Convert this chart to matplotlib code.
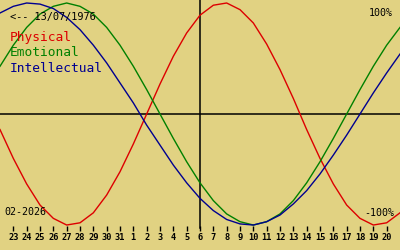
import matplotlib

matplotlib.use("Agg")

import matplotlib.pyplot as plt
import matplotlib.transforms as mtransforms

# day index 0 = 23 Jan 2026, index 14 = 6 Feb 2026 (today line)
day_idx = list(range(-1, 30))
day_labels = ["23", "24", "25", "26", "27", "28", "29", "30", "31",
              "1", "2", "3", "4", "5", "6", "7", "8", "9", "10",
              "11", "12", "13", "14", "15", "16", "17", "18", "19", "20"]
today_idx = 14

physical = [-0.14, -0.40, -0.63, -0.82, -0.94, -1.00, -0.98, -0.89, -0.73, -0.52,
            -0.27, 0.00, 0.27, 0.52, 0.73, 0.89, 0.98, 1.00, 0.94, 0.82,
            0.63, 0.40, 0.14, -0.14, -0.40, -0.63, -0.82, -0.94, -1.00, -0.98,
            -0.89]
emotional = [0.43, 0.62, 0.78, 0.90, 0.97, 1.00, 0.97, 0.90, 0.78, 0.62,
             0.43, 0.22, 0.00, -0.22, -0.43, -0.62, -0.78, -0.90, -0.97, -1.00,
             -0.97, -0.90, -0.78, -0.62, -0.43, -0.22, 0.00, 0.22, 0.43, 0.62,
             0.78]
intellectual = [0.91, 0.97, 1.00, 0.99, 0.95, 0.87, 0.76, 0.62, 0.46, 0.28,
                0.10, -0.10, -0.28, -0.46, -0.62, -0.76, -0.87, -0.95, -0.99, -1.00,
                -0.97, -0.91, -0.81, -0.69, -0.54, -0.37, -0.19, 0.00, 0.19, 0.37,
                0.54]

BG = "#e1d282"
RED = "#dd0000"
GREEN = "#008000"
BLUE = "#000090"
MONO = "DejaVu Sans Mono"

fig = plt.figure(figsize=(4, 2.5), dpi=100, facecolor=BG)
ax = fig.add_axes([0, 0, 1, 1], facecolor=BG)
ax.set_xlim(-1, 29)
ax.set_ylim(-1.225, 1.027)
ax.axis("off")

ax.axhline(0, color="black", lw=1.1)
ax.axvline(today_idx, ymin=0.088, ymax=1, color="black", lw=1.1)

ax.plot(day_idx, physical, color=RED, lw=1.0)
ax.plot(day_idx, emotional, color=GREEN, lw=1.0)
ax.plot(day_idx, intellectual, color=BLUE, lw=1.0)

# day ticks and labels along the bottom
trans = mtransforms.blended_transform_factory(ax.transData, ax.transAxes)
ticks = list(range(len(day_labels)))
ax.vlines(ticks, 0.076, 0.096, transform=trans, color="black", lw=1.0)
for i, lab in zip(ticks, day_labels):
    ax.text(i, 0.048, lab, transform=trans, ha="center", va="center",
            fontsize=6.2, family=MONO, weight="bold", color="black")

ax.text(10 / 400, 0.932, "<-- 13/07/1976", transform=ax.transAxes,
        ha="left", va="center", fontsize=7.4, family=MONO, color="black")
ax.text(10 / 400, 0.848, "Physical", transform=ax.transAxes,
        ha="left", va="center", fontsize=9.3, family=MONO, color=RED)
ax.text(10 / 400, 0.788, "Emotional", transform=ax.transAxes,
        ha="left", va="center", fontsize=9.3, family=MONO, color=GREEN)
ax.text(10 / 400, 0.728, "Intellectual", transform=ax.transAxes,
        ha="left", va="center", fontsize=9.3, family=MONO, color=BLUE)

ax.text(393 / 400, 0.948, "100%", transform=ax.transAxes,
        ha="right", va="center", fontsize=7.2, family=MONO, color="black")
ax.text(394 / 400, 0.148, "-100%", transform=ax.transAxes,
        ha="right", va="center", fontsize=7.2, family=MONO, color="black")
ax.text(4 / 400, 0.152, "02-2026", transform=ax.transAxes,
        ha="left", va="center", fontsize=7.2, family=MONO, color="black")

fig.savefig("out.png", dpi=100, facecolor=BG)
